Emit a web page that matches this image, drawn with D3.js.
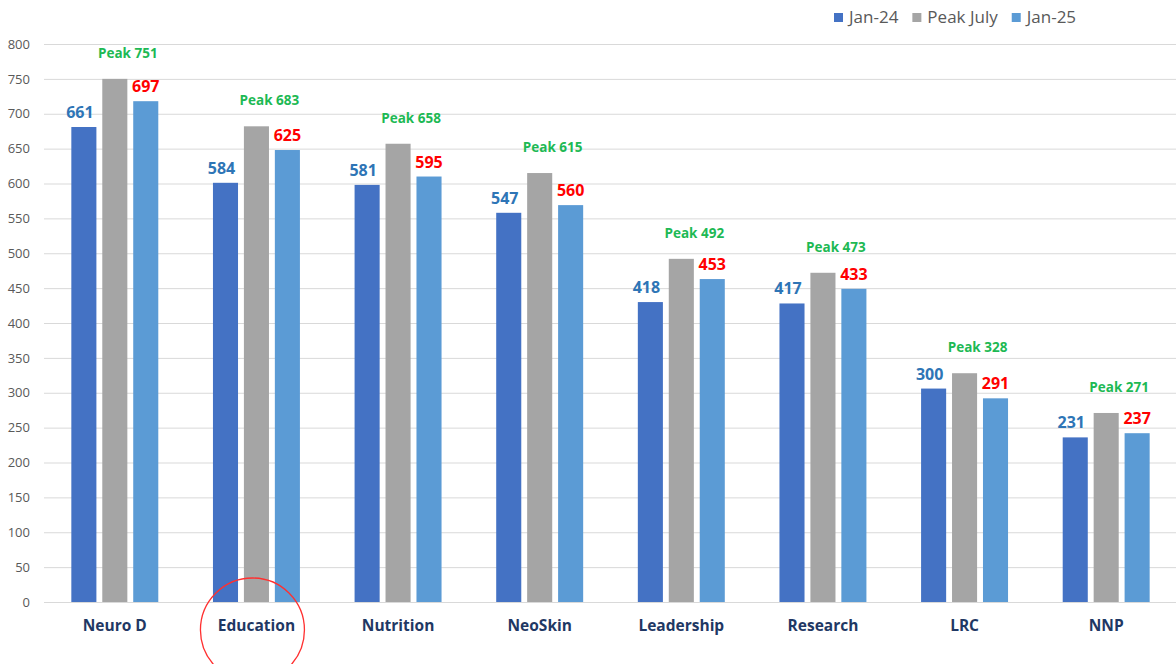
<!DOCTYPE html>
<html><head><meta charset="utf-8">
<script src="https://cdn.jsdelivr.net/npm/d3@7"></script>
<style>
html,body{margin:0;padding:0;background:#fff;}
svg{display:block;font-family:"Open Sans",sans-serif;}
</style></head>
<body>
<svg id="chart" width="1176" height="664"></svg>
<script>
const categories = ["Neuro D","Education","Nutrition","NeoSkin","Leadership","Research","LRC","NNP"];
const seriesNames = ["Jan-24","Peak July","Jan-25"];
// bar heights as drawn
const jan24 = [681, 601, 598, 558, 430, 428, 306, 236];
const peakJuly = [750, 682, 657, 615, 492, 472, 328, 271];
const jan25 = [718, 648, 610, 569, 463, 449, 292, 242];
// data label texts
const jan24Labels = [661, 584, 581, 547, 418, 417, 300, 231];
const peakLabels = [751, 683, 658, 615, 492, 473, 328, 271];
const jan25Labels = [697, 625, 595, 560, 453, 433, 291, 237];
const yTicks = [0,50,100,150,200,250,300,350,400,450,500,550,600,650,700,750,800];

const colors = {"Jan-24":"#4472C4","Peak July":"#A5A5A5","Jan-25":"#5B9BD5"};
const svg = d3.select("#chart");
const margin = {left:44, right:1177, top:44, bottom:602};

const x0 = d3.scaleBand().domain(categories).range([margin.left, margin.right])
  .paddingInner(0.386).paddingOuter(0.193);
const x1 = d3.scaleBand().domain(seriesNames).range([0, x0.bandwidth()]).paddingInner(0.19);
const y = d3.scaleLinear().domain([0,800]).range([margin.bottom, margin.top]);

// gridlines
const yAxis = d3.axisLeft(y).tickValues(yTicks).tickSize(-(1176-margin.left)).tickPadding(14);
const gy = svg.append("g").attr("transform",`translate(${margin.left},0)`).call(yAxis);
gy.select(".domain").remove();
gy.selectAll(".tick line").attr("stroke","#D9D9D9").attr("stroke-width",1);
gy.selectAll(".tick text").attr("fill","#595959").style("font-size","13px")
  .style("font-family","'Open Sans',sans-serif");

const table = categories.map((c,i)=>({cat:c, vals:[
  {s:"Jan-24", v:jan24[i]}, {s:"Peak July", v:peakJuly[i]}, {s:"Jan-25", v:jan25[i]}]}));

const groups = svg.append("g").selectAll("g").data(table).join("g")
  .attr("transform", d=>`translate(${x0(d.cat)},0)`);
groups.selectAll("rect").data(d=>d.vals).join("rect")
  .attr("x", d=>x1(d.s)).attr("width", x1.bandwidth())
  .attr("y", d=>y(d.v)).attr("height", d=>y(0)-y(d.v))
  .attr("fill", d=>colors[d.s]);

// x-axis
const xAxis = d3.axisBottom(x0).tickSize(0).tickPadding(18);
const gx = svg.append("g").attr("transform",`translate(0,${margin.bottom})`).call(xAxis);
gx.select(".domain").remove();
gx.selectAll(".tick text").attr("fill","#1F3864").style("font-size","15.5px")
  .style("font-weight","bold").style("font-family","'Open Sans',sans-serif");

// data labels
const lab = svg.append("g").style("font-weight","bold");
categories.forEach((c,i)=>{
  const bx = x0(c);
  lab.append("text").attr("x", bx + x1("Jan-24") + x1.bandwidth()/2 - 4)
    .attr("y", y(jan24[i]) - 9).attr("text-anchor","middle")
    .attr("fill","#2E75B6").style("font-size","16px").text(jan24Labels[i]);
  lab.append("text").attr("x", bx + x1("Peak July") + x1.bandwidth()/2 + 13)
    .attr("y", y(peakJuly[i]) - 21).attr("text-anchor","middle")
    .attr("fill","#1DB954").style("font-size","13.5px").text("Peak " + peakLabels[i]);
  lab.append("text").attr("x", bx + x1("Jan-25") + x1.bandwidth()/2)
    .attr("y", y(jan25[i]) - 9).attr("text-anchor","middle")
    .attr("fill","#FF0000").style("font-size","16px").text(jan25Labels[i]);
});

// legend
const legend = svg.append("g");
let lx = 834;
seriesNames.forEach(s=>{
  legend.append("rect").attr("x", lx).attr("y", 13).attr("width",9).attr("height",9).attr("fill",colors[s]);
  const t = legend.append("text").attr("x", lx+15).attr("y", 23).attr("fill","#595959")
    .style("font-size","17px").text(s);
  lx += 15 + t.node().getComputedTextLength() + 14;
});

// red circle annotation around Education
svg.append("circle").attr("cx", x0("Education") + x0.bandwidth()/2 - 4).attr("cy", 630).attr("r", 52)
  .attr("fill","none").attr("stroke","#FF3030").attr("stroke-width",1.3);
</script>
</body></html>
